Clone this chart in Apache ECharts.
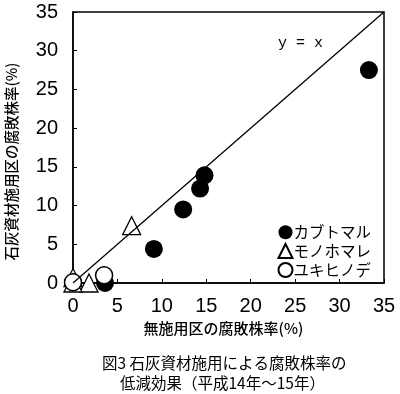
<!DOCTYPE html>
<html><head><meta charset="utf-8">
<script src="https://cdn.jsdelivr.net/npm/echarts@6/dist/echarts.min.js"></script>
<style>html,body{margin:0;padding:0;background:#fff}#c{width:400px;height:394px}</style>
</head><body><div id="c"></div>
<script>
const seriesNames = ['カブトマル', 'モノホマレ', 'ユキヒノデ'];
const kabutomaru = [[33.3, 27.5], [14.8, 13.9], [14.3, 12.2], [12.4, 9.5], [9.1, 4.4], [3.6, 0]];
const monohomare = [[6.6, 7.4], [0, 0.7], [1.8, 0], [0, 0]];
const yukihinode = [[0, 0.1], [3.5, 1.0]];
const identityLine = [[0, 0], [35, 35]];
const identityLabel = 'y = x';
const axisTicks = [0, 5, 10, 15, 20, 25, 30, 35];
const xName = '無施用区の腐敗株率(%)';
const yName = '石灰資材施用区の腐敗株率(%)';
const caption1 = '図3 石灰資材施用による腐敗株率の';
const caption2 = '低減効果（平成14年～15年）';

const numFont = '"Liberation Sans Narrow","Liberation Sans",sans-serif';
const jpFont = '"Noto Sans CJK JP",sans-serif';
const chart = echarts.init(document.getElementById('c'));
const axisCommon = {
  type: 'value', min: 0, max: 35, interval: 5,
  axisLine: {lineStyle: {color: '#000', width: 1.5}},
  axisTick: {inside: true, length: 4, lineStyle: {color: '#000'}},
  splitLine: {show: false},
  axisLabel: {color: '#000', fontSize: 20, fontFamily: numFont, margin: 13},
  nameLocation: 'middle',
  nameTextStyle: {color: '#000', fontSize: 15, fontWeight: 500, fontFamily: jpFont}
};
chart.setOption({
  animation: false,
  backgroundColor: '#fff',
  title: [
    {text: caption1, left: 97, top: 350, textStyle: {fontSize: 15.5, fontWeight: 'normal', color: '#000', fontFamily: jpFont}},
    {text: caption2, left: 115, top: 370, textStyle: {fontSize: 15.5, fontWeight: 'normal', color: '#000', fontFamily: jpFont}}
  ],
  grid: {left: 73, right: 16, top: 12, bottom: 111, show: true, borderColor: '#000', borderWidth: 1.5,
    containLabel: false, outerBoundsMode: 'none'},
  legend: {
    data: seriesNames, orient: 'vertical', right: 24, bottom: 111,
    itemWidth: 14, itemHeight: 14, itemGap: 3,
    textStyle: {fontSize: 15.5, color: '#000', fontFamily: jpFont, padding: [0, 0, 0, -4]}
  },
  xAxis: Object.assign({}, axisCommon, {name: xName, nameGap: 34,
    nameTextStyle: Object.assign({}, axisCommon.nameTextStyle, {padding: [0, 10, 0, 0]})}),
  yAxis: Object.assign({}, axisCommon, {name: yName, nameGap: 54,
    nameTextStyle: Object.assign({}, axisCommon.nameTextStyle, {fontSize: 14.5, padding: [0, 28, 0, 0]}),
    axisLabel: Object.assign({}, axisCommon.axisLabel, {margin: 15})}),
  series: [
    {type: 'line', data: identityLine, symbol: 'none', z: 5, silent: true,
     lineStyle: {color: '#000', width: 1.3},
     markPoint: {symbol: 'circle', symbolSize: 0, data: [{coord: [25.6, 31], value: identityLabel}],
       label: {show: true, formatter: identityLabel, color: '#000', fontSize: 15, fontFamily: '"Liberation Mono","DejaVu Sans Mono",monospace'}}},
    {name: seriesNames[0], type: 'scatter', data: kabutomaru, symbol: 'circle', symbolSize: 18, clip: false,
     itemStyle: {color: '#000', opacity: 1}},
    {name: seriesNames[1], type: 'scatter', data: monohomare, symbol: 'triangle', symbolSize: 18, clip: false,
     itemStyle: {color: '#fff', borderColor: '#000', borderWidth: 1.3, opacity: 1}},
    {name: seriesNames[2], type: 'scatter', data: yukihinode, symbol: 'circle', symbolSize: 17, clip: false,
     itemStyle: {color: '#fff', borderColor: '#000', borderWidth: 1.5, opacity: 1}}
  ]
});
</script></body></html>
